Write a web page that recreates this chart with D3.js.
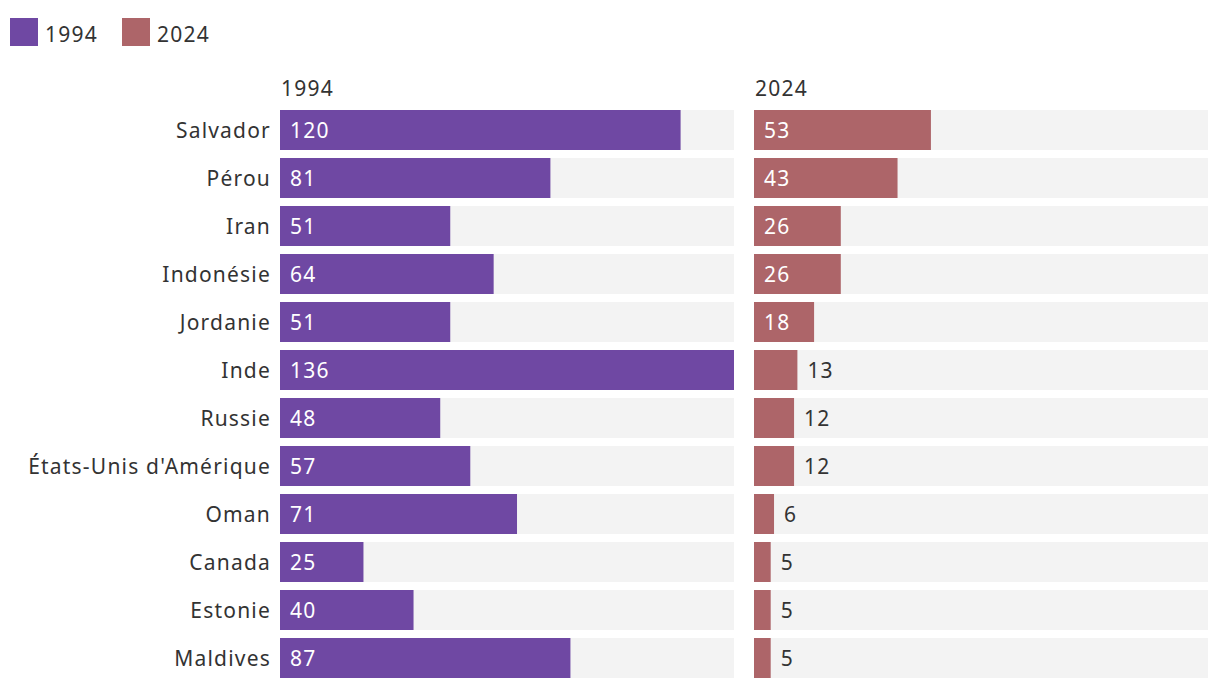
<!DOCTYPE html>
<html>
<head>
<meta charset="utf-8">
<script src="https://cdn.jsdelivr.net/npm/d3@7"></script>
<style>
  body { margin: 0; background: #fff; }
  text { font-family: "Noto Sans", "Open Sans", sans-serif; letter-spacing: 1.2px; }
</style>
</head>
<body>
<svg id="chart"></svg>
<script>
var width = 1220, height = 690;

// data
var countries = ["Salvador", "Pérou", "Iran", "Indonésie", "Jordanie", "Inde", "Russie",
                 "États-Unis d'Amérique", "Oman", "Canada", "Estonie", "Maldives"];
var values1994 = [120, 81, 51, 64, 51, 136, 48, 57, 71, 25, 40, 87];
var values2024 = [53, 43, 26, 26, 18, 13, 12, 12, 6, 5, 5, 5];
var years = ["1994", "2024"];
var colors = ["#6f48a3", "#ad6569"];

var fontSize = "21px";
var svg = d3.select("#chart").attr("width", width).attr("height", height);

// legend
var legend = svg.append("g").selectAll("g")
    .data(years)
    .enter()
    .append("g")
    .attr("transform", function(d, i) { return "translate(" + (10 + i * 112) + ",18)"; });
legend.append("rect")
    .attr("width", 28).attr("height", 28)
    .attr("fill", function(d, i) { return colors[i]; });
legend.append("text")
    .attr("x", 35).attr("y", 24)
    .style("font-size", fontSize)
    .style("fill", "#333")
    .text(function(d) { return d; });

var y = d3.scaleBand()
    .domain(countries)
    .range([106, 682])
    .paddingInner(8 / 48)
    .paddingOuter(4 / 48);

var panelWidth = 454;
var x = d3.scaleLinear().domain([0, d3.max(values1994)]).range([0, panelWidth]);

// row labels
svg.append("g").selectAll("text")
    .data(countries)
    .enter()
    .append("text")
    .attr("x", 271)
    .attr("y", function(d) { return y(d) + y.bandwidth() / 2; })
    .attr("dy", "0.38em")
    .style("text-anchor", "end")
    .style("font-size", fontSize)
    .style("fill", "#333")
    .text(function(d) { return d; });

var panels = [
    {left: 280, values: values1994, color: colors[0], title: years[0]},
    {left: 754, values: values2024, color: colors[1], title: years[1]}
];

panels.forEach(function(p) {
    var g = svg.append("g").attr("transform", "translate(" + p.left + ",0)");

    g.append("text")
        .attr("x", 1).attr("y", 96)
        .style("font-size", fontSize)
        .style("fill", "#333")
        .text(p.title);

    var rows = g.selectAll("g.row")
        .data(countries)
        .enter()
        .append("g")
        .attr("class", "row")
        .attr("transform", function(d) { return "translate(0," + y(d) + ")"; });

    rows.append("rect")
        .attr("width", panelWidth)
        .attr("height", y.bandwidth())
        .attr("fill", "#f3f3f3");

    rows.append("rect")
        .attr("width", function(d, i) { return x(p.values[i]); })
        .attr("height", y.bandwidth())
        .attr("fill", p.color);

    rows.append("text")
        .attr("x", function(d, i) {
            var w = x(p.values[i]);
            return w > 50 ? 10 : w + 10;
        })
        .attr("y", y.bandwidth() / 2)
        .attr("dy", "0.38em")
        .style("font-size", fontSize)
        .style("fill", function(d, i) { return x(p.values[i]) > 50 ? "#fff" : "#333"; })
        .text(function(d, i) { return p.values[i]; });
});
</script>
</body>
</html>
